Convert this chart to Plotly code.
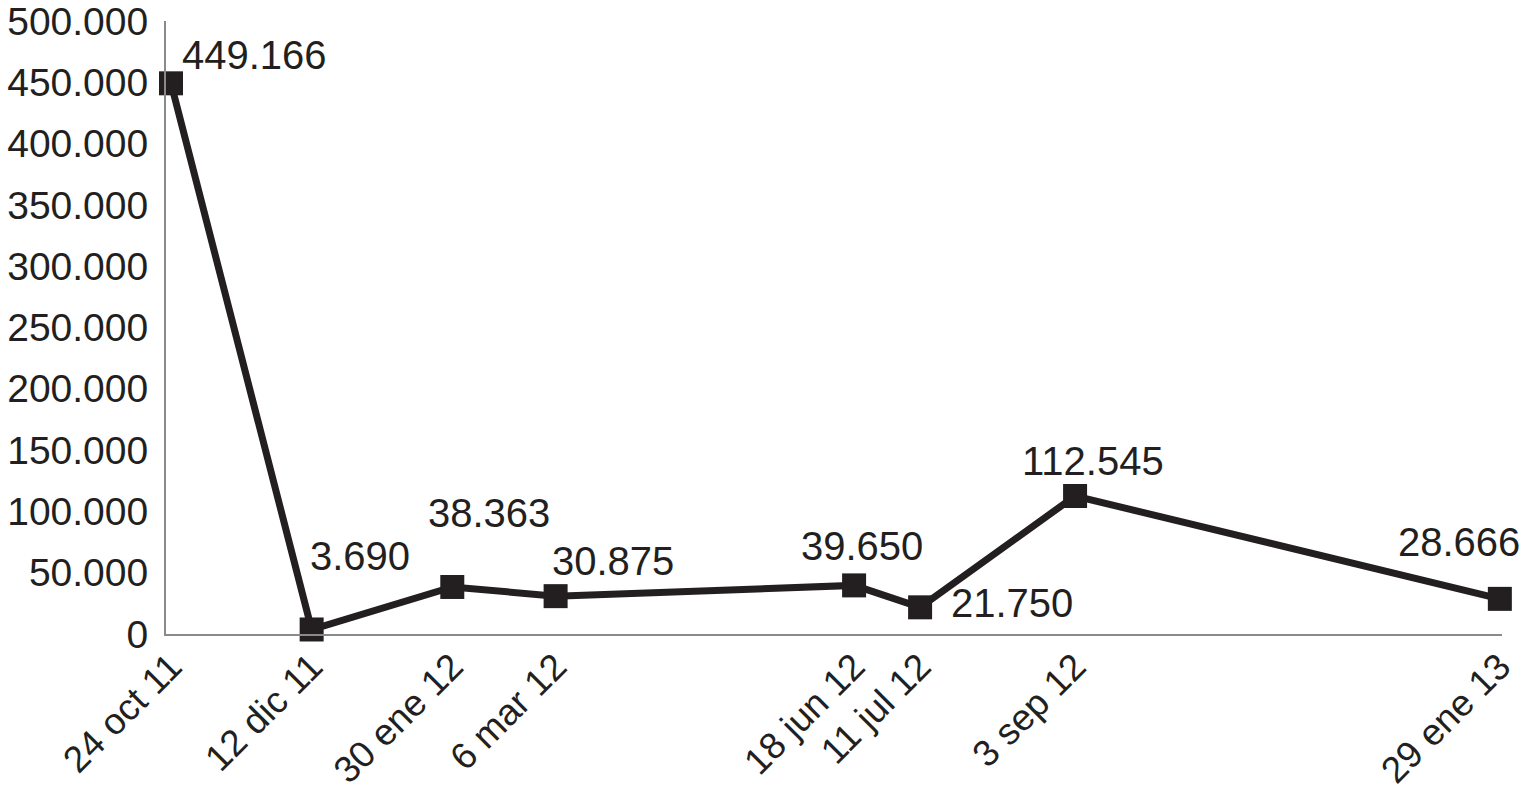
import plotly.graph_objects as go

# data
dates = ["2011-10-24", "2011-12-12", "2012-01-30", "2012-03-06",
         "2012-06-18", "2012-07-11", "2012-09-03", "2013-01-29"]
date_labels = ["24 oct 11", "12 dic 11", "30 ene 12", "6 mar 12",
               "18 jun 12", "11 jul 12", "3 sep 12", "29 ene 13"]
values = [449166, 3690, 38363, 30875, 39650, 21750, 112545, 28666]
value_labels = ["449.166", "3.690", "38.363", "30.875",
                "39.650", "21.750", "112.545", "28.666"]

# label offsets in px (x right, y up) relative to each marker
label_dx = [83, 48, 37, 57, 8, 92, 18, -41]
label_dy = [28, 73, 74, 35, 39, 4, 35, 57]

FONT = "Liberation Sans, Arial, sans-serif"
INK = "#231f20"
FS = 40

fig = go.Figure()
fig.add_trace(go.Scatter(
    x=dates, y=values, mode="lines+markers",
    line=dict(color=INK, width=7),
    marker=dict(symbol="square", size=24, color=INK),
    cliponaxis=False, showlegend=False, hoverinfo="x+y",
))

for d, v, t, dx, dy in zip(dates, values, value_labels, label_dx, label_dy):
    fig.add_annotation(x=d, y=v, text=t, showarrow=False,
                       xshift=dx, yshift=dy, xanchor="center", yanchor="middle",
                       font=dict(family=FONT, size=FS, color=INK))

fig.update_layout(
    width=1524, height=797,
    margin=dict(l=166, r=22, t=21, b=163),
    paper_bgcolor="white", plot_bgcolor="white",
    separators=",.",
    font=dict(family=FONT, size=FS, color=INK),
)
fig.update_xaxes(
    type="date",
    range=["2011-10-22 06:00", "2013-01-29 18:00"],
    tickvals=dates, ticktext=date_labels, tickangle=-45,
    showgrid=False, zeroline=False, automargin=False,
    showline=True, linecolor="#8a8a8a", linewidth=2,
    ticks="", tickfont=dict(size=37), ticklabeloverflow="allow",
    ticklabelstandoff=-6,
)
fig.update_yaxes(
    range=[0, 500000], dtick=50000, tickformat=",d",
    showgrid=False, zeroline=False, automargin=False,
    showline=True, linecolor="#8a8a8a", linewidth=2,
    ticks="", ticklabelstandoff=8, tickfont=dict(size=39),
    ticklabeloverflow="allow",
)

fig.write_html("out.html", config={"displayModeBar": False},
               post_script="document.body.style.margin='0';")
